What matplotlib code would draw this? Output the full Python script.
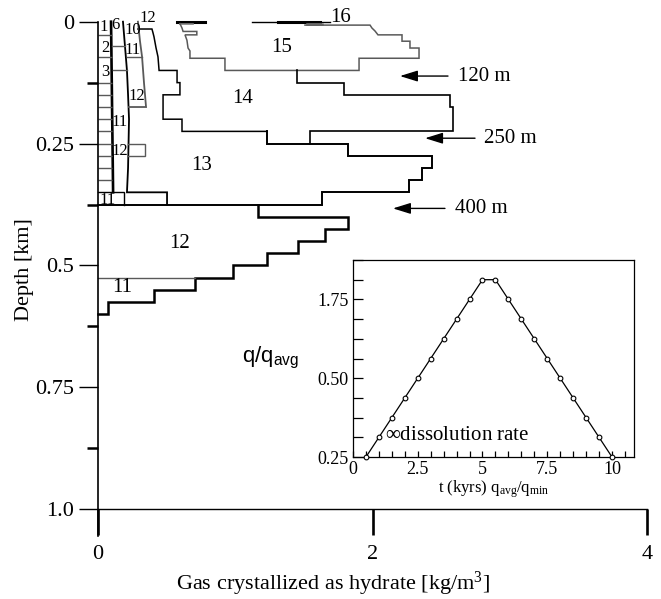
import matplotlib
matplotlib.use('Agg')
import matplotlib.pyplot as plt
from matplotlib.ticker import FixedLocator, FixedFormatter, NullFormatter

plt.rcParams['font.family'] = ['Liberation Serif', 'DejaVu Serif']
plt.rcParams['mathtext.fontset'] = 'custom'
plt.rcParams['mathtext.rm'] = 'Liberation Serif'
plt.rcParams['mathtext.it'] = 'Liberation Serif:italic'
plt.rcParams['mathtext.sf'] = 'Liberation Sans'

# ---------------- data (x = gas as hydrate [kg/m3], d = depth [km]) ----------------
# profile 16 (top, surface)
x16a = [0.576, 0.78];  d16a = [0.0, 0.0]
x16b = [1.122, 1.69];  d16b = [0.0, 0.0]
x16c = [1.311, 1.617]; d16c = [0.0, 0.0]
x16d = [1.523, 1.632]; d16d = [0.005, 0.005]
x16e = [0.597, 0.692]; d16e = [0.004, 0.004]
# profile 15 outline
x15 = [0.597, 0.612, 0.62, 0.72, 0.72, 0.634, 0.648, 0.656, 0.67, 0.67, 0.925, 0.925, 1.902, 1.902,
       2.339, 2.339, 2.273, 2.273, 2.215, 2.215, 2.04, 2.018, 1.996, 1.982, 1.508]
d15 = [0.004, 0.013, 0.02, 0.02, 0.027, 0.027, 0.038, 0.054, 0.06, 0.075, 0.075, 0.1, 0.1, 0.075,
       0.075, 0.054, 0.054, 0.04, 0.04, 0.027, 0.027, 0.019, 0.013, 0.007, 0.007]
# profile 14 left boundary
x14a = [0.291, 0.393, 0.40, 0.408, 0.423, 0.437, 0.445, 0.445, 0.576, 0.576, 0.597, 0.597, 0.474,
        0.474, 0.612, 0.612, 1.231]
d14a = [0.015, 0.015, 0.022, 0.031, 0.054, 0.072, 0.1, 0.1, 0.1, 0.125, 0.125, 0.15, 0.15,
        0.2, 0.2, 0.225, 0.225]
# profile 14 right boundary
x14b = [1.545, 1.545, 2.587, 2.587, 2.565, 2.565, 1.792, 1.792, 1.45, 1.45]
d14b = [0.25, 0.225, 0.225, 0.175, 0.175, 0.15, 0.15, 0.125, 0.125, 0.1]
# profile 13
x13 = [1.231, 1.231, 1.821, 1.821, 2.434, 2.434, 2.361, 2.361, 2.266, 2.266, 1.632, 1.632, 0.0]
d13 = [0.225, 0.25, 0.25, 0.275, 0.275, 0.3, 0.3, 0.325, 0.325, 0.35, 0.35, 0.375, 0.375]
# profile 12
x12 = [1.166, 1.166, 1.821, 1.821, 1.654, 1.654, 1.457, 1.457, 1.231, 1.231, 0.983, 0.983,
       0.707, 0.707, 0.408, 0.408, 0.073, 0.073, 0.0]
d12 = [0.375, 0.4, 0.4, 0.425, 0.425, 0.45, 0.45, 0.475, 0.475, 0.5, 0.5, 0.525, 0.525,
       0.55, 0.55, 0.575, 0.575, 0.6, 0.6]
# profile 11 top
x11 = [0.0, 0.707]; d11 = [0.525, 0.525]
# early profiles near the axis
xn1 = [0.095, 0.11]; dn1 = [0.0, 0.35]
dn1_layers = [0.027, 0.072, 0.125, 0.15, 0.175, 0.2, 0.225, 0.25, 0.275, 0.3, 0.325]
xn1_width = 0.1
xbox11 = [0.0, 0.189, 0.189]; dbox11 = [0.35, 0.35, 0.375]
xn2 = [0.182, 0.211, 0.219, 0.226, 0.219, 0.211, 0.503, 0.503]
dn2 = [0.0, 0.1, 0.15, 0.2, 0.3, 0.35, 0.35, 0.375]
xn2h = [[0.102, 0.195], [0.109, 0.211], [0.21, 0.321]]
dn2h = [0.05, 0.1, 0.072]
xn3 = [0.291, 0.306, 0.321, 0.335, 0.35, 0.226]
dn3 = [0.0, 0.04, 0.072, 0.125, 0.175, 0.175]
xbox12 = [0.219, 0.342, 0.342, 0.219]; dbox12 = [0.25, 0.25, 0.275, 0.275]

big_labels = ['16', '15', '14', '13', '12', '11']
big_x = [1.77, 1.341, 1.056, 0.758, 0.597, 0.175]
big_d = [-0.008, 0.052, 0.157, 0.296, 0.454, 0.545]
small_labels = ['1', '6', '10', '12', '2', '3', '11', '12', '11', '12', '11']
small_x = [0.044, 0.124, 0.25, 0.36, 0.051, 0.051, 0.255, 0.284, 0.16, 0.16, 0.066]
small_d = [0.011, 0.007, 0.017, -0.008, 0.054, 0.103, 0.058, 0.153, 0.206, 0.266, 0.366]

arrow_text = ['120 m', '250 m', '400 m']
arrow_d = [0.1115, 0.239, 0.383]
arrow_tip = [2.20, 2.383, 2.149]
arrow_tail = [2.55, 2.747, 2.528]
arrow_tx = [2.623, 2.812, 2.60]

# inset: q/q_avg vs time
t_kyr = [0.5, 1.0, 1.5, 2.0, 2.5, 3.0, 3.5, 4.0, 4.5, 5.0, 5.5, 6.0, 6.5, 7.0, 7.5, 8.0, 8.5, 9.0, 9.5, 10.0]
q_lvl = [0, 1, 2, 3, 4, 5, 6, 7, 8, 9, 9, 8, 7, 6, 5, 4, 3, 2, 1, 0]
inset_xticks = [0, 2.5, 5, 7.5, 10]
inset_xticklabels = ['0', '2.5', '5', '7.5', '10']
inset_ytick_pos = [0, 4, 8]
inset_yticklabels = ['0.25', '0.50', '1.75']

main_yticks = [0, 0.25, 0.5, 0.75, 1.0]
main_yticklabels = ['0', '0.25', '0.5', '0.75', '1.0']
main_yminor = [0.125, 0.375, 0.625, 0.875]
main_xticks = [0, 2, 4]
main_xticklabels = ['0', '2', '4']

# ---------------- figure ----------------
W, H = 661, 599
fig = plt.figure(figsize=(W / 100, H / 100), dpi=100)


def fx(px):
    return px / W


def fy(py):
    return 1 - py / H


ax = fig.add_axes([fx(98), fy(536), (647 - 98) / W, (536 - 21.7) / H])
ax.set_xlim(0, 4)
ax.set_ylim(1.055, 0)
for s in ['top', 'right']:
    ax.spines[s].set_visible(False)
ax.spines['bottom'].set_position(('data', 1.0))
ax.spines['left'].set_linewidth(1.2)
ax.spines['bottom'].set_linewidth(1.0)
ax.patch.set_alpha(0)

ax.yaxis.set_major_locator(FixedLocator(main_yticks))
ax.yaxis.set_major_formatter(FixedFormatter(main_yticklabels))
ax.yaxis.set_minor_locator(FixedLocator(main_yminor))
ax.yaxis.set_minor_formatter(NullFormatter())
ax.tick_params(axis='y', which='major', length=14, width=1.0, direction='out', labelsize=16, pad=3)
ax.tick_params(axis='y', which='minor', length=8, width=1.8, direction='out')
ax.xaxis.set_major_locator(FixedLocator(main_xticks))
ax.xaxis.set_major_formatter(FixedFormatter(main_xticklabels))
ax.tick_params(axis='x', which='major', length=19, width=1.9, direction='out', labelsize=16, pad=7)

BL = 'k'
GR = '0.35'
kw = dict(clip_on=False, solid_joinstyle='miter')
ax.plot(x16a, d16a, color=BL, lw=2.2, **kw)
ax.plot(x16b, d16b, color=BL, lw=1.0, **kw)
ax.plot(x16c, d16c, color=BL, lw=2.2, **kw)
ax.plot(x16d, d16d, color='0.5', lw=1.8, **kw)
ax.plot(x16e, d16e, color='0.5', lw=1.2, **kw)
ax.plot(x15, d15, color=GR, lw=1.1, **kw)
ax.plot(x14a, d14a, color=BL, lw=1.1, **kw)
ax.plot(x14b, d14b, color=BL, lw=1.2, **kw)
ax.plot(x13, d13, color=BL, lw=1.4, **kw)
ax.plot(x12, d12, color=BL, lw=1.8, **kw)
ax.plot(x11, d11, color=GR, lw=1.0, **kw)
ax.plot(xn1, dn1, color=BL, lw=1.9, **kw)
ax.hlines(dn1_layers, 0, xn1_width, color=GR, lw=1.0)
ax.plot(xbox11, dbox11, color=BL, lw=1.0, **kw)
ax.plot(xn2, dn2, color=BL, lw=1.3, **kw)
for xs, dv in zip(xn2h, dn2h):
    ax.plot(xs, [dv, dv], color=GR, lw=1.0, **kw)
ax.plot(xn3, dn3, color=GR, lw=1.3, **kw)
ax.plot(xbox12, dbox12, color=GR, lw=1.0, **kw)

for lab, x, d in zip(big_labels, big_x, big_d):
    ax.text(x, d, lab, fontsize=15, ha='center', va='center')
for lab, x, d in zip(small_labels, small_x, small_d):
    ax.text(x, d, lab, fontsize=12, ha='center', va='center')

for txt, d, tip, tail, tx in zip(arrow_text, arrow_d, arrow_tip, arrow_tail, arrow_tx):
    ax.annotate('', xy=(tip, d), xytext=(tail, d),
                arrowprops=dict(arrowstyle='-|>,head_length=0.9,head_width=0.28', color='k',
                                lw=1.0, mutation_scale=12, shrinkA=0, shrinkB=0))
    ax.text(tx, d, txt, fontsize=15, ha='left', va='center')

fig.text(fx(25), fy(270), 'Depth [km]', rotation=90, ha='center', va='center', fontsize=16)
fig.text(fx(333), fy(584), 'Gas crystallized as hydrate [kg/m$^3$]', ha='center', va='center',
         fontsize=16)

# ---------------- inset ----------------
axi = fig.add_axes([fx(353), fy(457), (634 - 353) / W, (457 - 260) / H])
axi.set_xlim(0, 10.85)
axi.set_ylim(0, 10)
axi.plot(t_kyr, q_lvl, color='k', lw=0.9, marker='o', ms=3.4, mfc='white', mec='k', mew=0.8,
         clip_on=False, zorder=3)
for s in axi.spines.values():
    s.set_linewidth(0.9)
axi.xaxis.set_major_locator(FixedLocator(inset_xticks))
axi.xaxis.set_major_formatter(FixedFormatter(inset_xticklabels))
axi.xaxis.set_minor_locator(FixedLocator([i * 0.5 for i in range(22)]))
axi.yaxis.set_major_locator(FixedLocator(inset_ytick_pos))
axi.yaxis.set_major_formatter(FixedFormatter(inset_yticklabels))
axi.yaxis.set_minor_locator(FixedLocator(list(range(11))))
axi.yaxis.set_minor_formatter(NullFormatter())
axi.tick_params(axis='x', which='both', direction='in', length=4, width=0.9, labelsize=13, pad=3,
                top=False)
axi.tick_params(axis='y', which='both', direction='in', length=7, width=0.9, labelsize=13, pad=3,
                right=False)
axi.set_xlabel('t (kyrs) q$_{\\mathrm{avg}}$/q$_{\\mathrm{min}}$', fontsize=12, labelpad=0)
axi.text(1.23, 1.07, '$\\infty$dissolution rate', fontsize=15, ha='left', va='center')
fig.text(fx(271), fy(357), 'q/q$_{\\mathsf{avg}}$', fontsize=16, ha='center', va='center',
         family='Liberation Sans')

fig.savefig('out.png', dpi=100)
